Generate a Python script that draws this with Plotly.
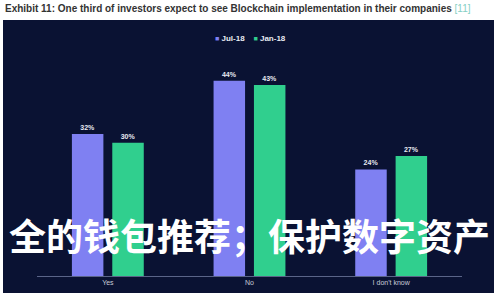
import plotly.graph_objects as go

categories = ["Yes", "No", "I don't know"]
jul18 = [32, 44, 24]
jan18 = [30, 43, 27]
series_names = ["Jul-18", "Jan-18"]
series_colors = ["#7f80f2", "#30cf8e"]
title_text = "Exhibit 11: One third of investors expect to see Blockchain implementation in their companies"
ref_text = "[11]"
overlay_text = "全的钱包推荐；保护数字资产"

W, H = 500, 300
L, R, T, B = 37, 38, 60, 24
pw, ph = W - L - R, H - T - B
px_per_unit = 4.44

def px_x(p):
    return (p - L) / pw

def px_y(p):
    return (H - B - p) / ph

fig = go.Figure()
for name, vals, col in zip(series_names, [jul18, jan18], series_colors):
    fig.add_trace(go.Bar(
        x=categories, y=vals, name=name, marker=dict(color=col, line=dict(width=0)),
        text=[f"<b>{v}%</b>" for v in vals], textposition="outside",
        textfont=dict(size=7, color="#e8eaf2", family="Liberation Sans"),
        cliponaxis=False, showlegend=False,
    ))

fig.add_shape(type="rect", xref="paper", yref="paper",
              x0=px_x(3), x1=px_x(494), y0=px_y(293), y1=px_y(20),
              fillcolor="#0a1233", line=dict(width=0), layer="below")

fig.add_annotation(xref="paper", yref="paper", x=px_x(3), y=px_y(8),
                   xanchor="left", yanchor="middle", showarrow=False,
                   text=f"<b>{title_text}</b> <span style='color:#86cfc4'>{ref_text}</span>",
                   font=dict(size=10, color="#333333", family="Liberation Sans"))

legend_html = "&nbsp;&nbsp;&nbsp;&nbsp;".join(
    f"<span style='color:{c};font-size:7px'>■</span> <b>{n}</b>"
    for n, c in zip(series_names, series_colors))
fig.add_annotation(xref="paper", yref="paper", x=px_x(250), y=px_y(39),
                   xanchor="center", yanchor="middle", showarrow=False,
                   text=legend_html,
                   font=dict(size=8, color="#e8eaf2", family="Liberation Sans"))

fig.add_annotation(xref="paper", yref="paper", x=px_x(249), y=px_y(235),
                   xanchor="center", yanchor="middle", showarrow=False,
                   text=f"<b>{overlay_text}</b>",
                   font=dict(size=37, color="#ffffff", family="Noto Sans CJK SC"))

fig.update_layout(
    width=W, height=H,
    margin=dict(l=L, r=R, t=T, b=B, pad=0),
    paper_bgcolor="#ffffff",
    plot_bgcolor="rgba(0,0,0,0)",
    barmode="group", bargap=0.43, bargroupgap=0.22,
    showlegend=False,
    xaxis=dict(showline=True, linecolor="#5a6488", linewidth=1, showgrid=False,
               ticks="", tickfont=dict(size=7, color="#c8cbd8", family="Liberation Sans"),
               fixedrange=True),
    yaxis=dict(range=[0, ph / px_per_unit], visible=False, showgrid=False, zeroline=False),
)

fig.write_html("out.html")
